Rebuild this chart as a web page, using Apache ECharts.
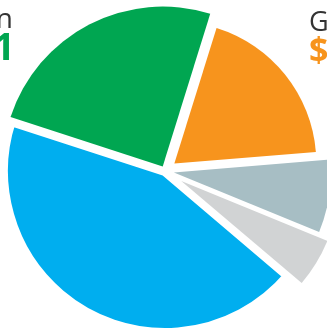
<!DOCTYPE html>
<html><head><meta charset="utf-8">
<script src="https://cdn.jsdelivr.net/npm/echarts@6/dist/echarts.min.js"></script>
<style>html,body{margin:0;padding:0;background:#fff;overflow:hidden}#c{width:327px;height:333px}</style>
</head><body><div id="c"></div>
<script>
// Data
const categories = ['Segment A', 'Segment B', 'Segment C', 'Segment D', 'Segment E'];
const values = [24.8, 18.9, 7.5, 5.0, 43.8];
const leftLabel = 'n';
const leftValue = '1';
const rightLabel = 'G';
const rightValue = '$';

// Styling (not data)
const colors = ['#00a651', '#f7941d', '#a7bec4', '#d1d3d4', '#00aeef'];
const radii = [160, 142, 157, 158, 162];
const offsets = [5, 12, 9, 19, 0];
const borders = [0, 0, 0, 0, 10];
const drawOrder = [4, 0, 1, 2, 3];

const series = drawOrder.map(function (k) {
  return {
    type: 'pie',
    center: [165, 171],
    radius: [0, radii[k]],
    startAngle: 162,
    clockwise: true,
    selectedMode: 'multiple',
    selectedOffset: offsets[k],
    animation: false,
    silent: true,
    label: { show: false },
    labelLine: { show: false },
    emphasis: { disabled: true },
    data: categories.map(function (name, i) {
      return {
        name: name,
        value: values[i],
        selected: i === k && offsets[k] > 0,
        itemStyle: i === k
          ? { color: colors[i], borderColor: '#ffffff', borderWidth: borders[k] }
          : { color: 'rgba(0,0,0,0)', borderWidth: 0 }
      };
    })
  };
});

const chart = echarts.init(document.getElementById('c'), null, { renderer: 'canvas' });
chart.setOption({
  backgroundColor: '#ffffff',
  animation: false,
  series: series,
  graphic: [
    { type: 'text', style: { text: leftLabel, x: 13, y: 6, align: 'right', verticalAlign: 'top', font: '28px "Open Sans", sans-serif', fill: '#333333' } },
    { type: 'text', style: { text: leftValue, x: 15, y: 30, align: 'right', verticalAlign: 'top', font: 'bold 38px "Open Sans", sans-serif', fill: '#00a651' } },
    { type: 'text', style: { text: rightLabel, x: 309, y: 10, align: 'left', verticalAlign: 'top', font: '27px "Open Sans", sans-serif', fill: '#333333' } },
    { type: 'text', style: { text: rightValue, x: 309, y: 35, align: 'left', verticalAlign: 'top', font: 'bold 34px "Open Sans", sans-serif', fill: '#f7941d' } }
  ]
});
</script>
</body></html>
